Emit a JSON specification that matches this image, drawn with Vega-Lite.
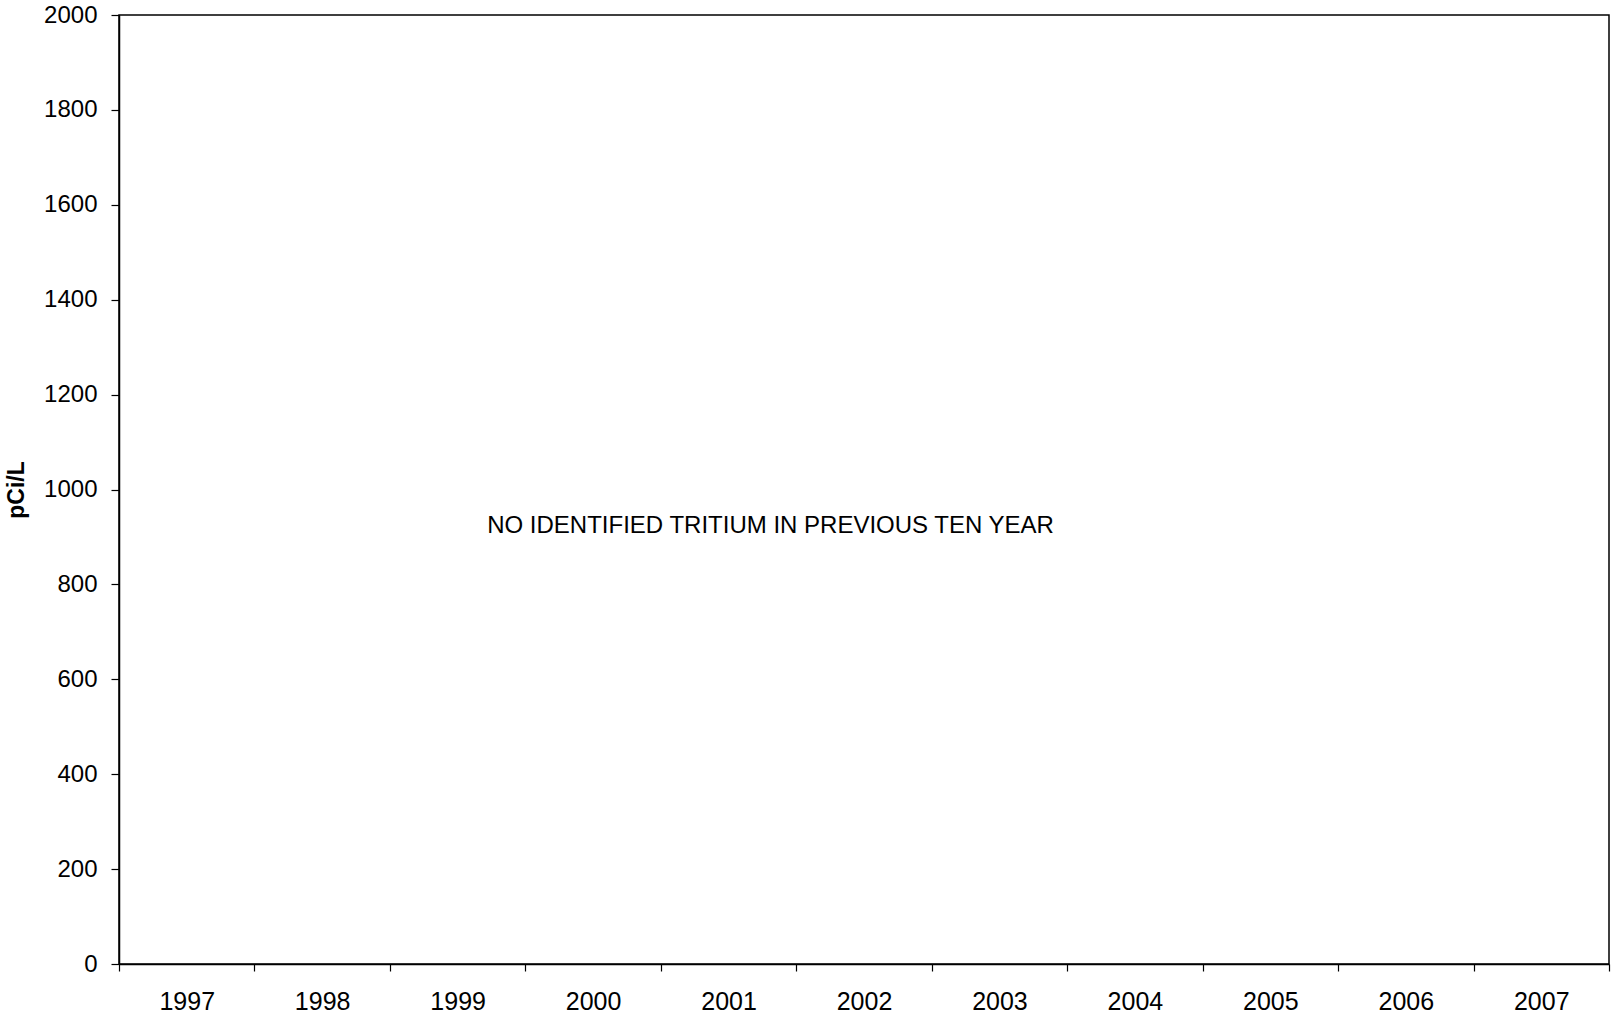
{
  "$schema": "https://vega.github.io/schema/vega-lite/v6.json",
  "autosize": {"type": "none"},
  "padding": {"left": 119, "top": 15, "right": 3, "bottom": 50},
  "width": 1490,
  "height": 949,
  "background": "white",
  "config": {
    "font": "Liberation Sans",
    "view": {"stroke": "black", "strokeWidth": 1.5},
    "axis": {"domainColor": "black", "tickColor": "black", "labelColor": "black", "titleColor": "black", "grid": false, "domainWidth": 1.5, "tickWidth": 1.2}
  },
  "data": {"values": [
    {"year": "2001", "value": 908, "label": "NO IDENTIFIED TRITIUM IN PREVIOUS TEN YEAR"}
  ]},
  "mark": {"type": "text", "fontSize": 24, "font": "Liberation Sans", "align": "center", "baseline": "alphabetic", "dx": 42, "color": "black"},
  "encoding": {
    "x": {
      "field": "year", "type": "ordinal",
      "scale": {"domain": ["1997","1998","1999","2000","2001","2002","2003","2004","2005","2006","2007"], "paddingInner": 0, "paddingOuter": 0},
      "axis": {"title": null, "labelAngle": 0, "labelFontSize": 25, "tickBand": "extent", "tickSize": 7, "labelPadding": 18}
    },
    "y": {
      "field": "value", "type": "quantitative",
      "scale": {"domain": [0, 2000], "nice": false},
      "axis": {"title": "pCi/L", "titleFontSize": 23, "titleFontWeight": "bold", "titlePadding": 15, "labelFontSize": 24, "format": "d", "values": [0,200,400,600,800,1000,1200,1400,1600,1800,2000], "tickSize": 8, "labelPadding": 14}
    },
    "text": {"field": "label"}
  }
}
